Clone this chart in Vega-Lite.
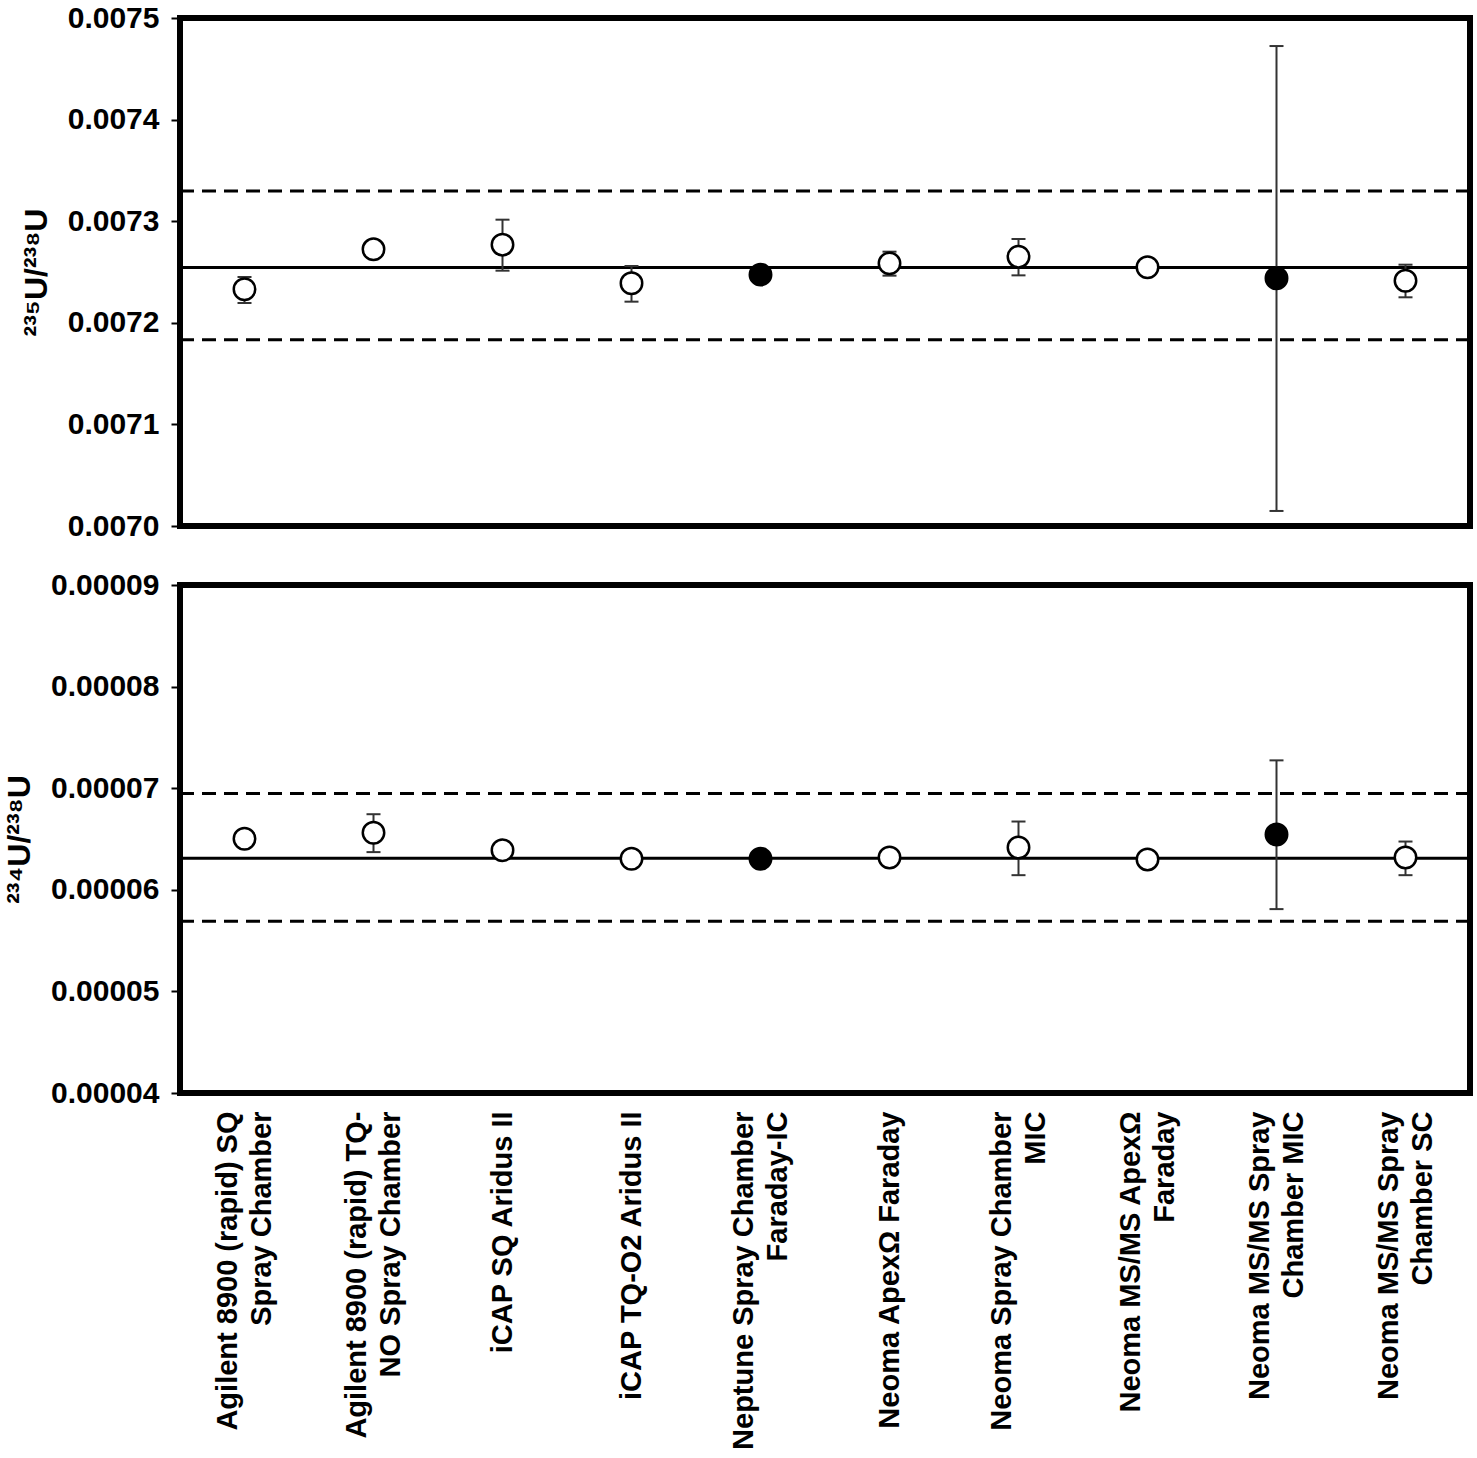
{
  "$schema": "https://vega.github.io/schema/vega-lite/v6.json",
  "background": "white",
  "padding": {"left": 0, "top": 0, "right": 5, "bottom": 0},
  "datasets": {
    "u235": [
      {"instrument": "Agilent 8900 (rapid) SQ\nSpray Chamber", "ratio": 0.0072330, "lo": 0.0072195, "hi": 0.0072451, "filled": "open"},
      {"instrument": "Agilent 8900 (rapid) TQ-\nNO Spray Chamber", "ratio": 0.0072723, "lo": null, "hi": null, "filled": "open"},
      {"instrument": "iCAP SQ Aridus II", "ratio": 0.0072769, "lo": 0.0072513, "hi": 0.0073015, "filled": "open"},
      {"instrument": "iCAP TQ-O2 Aridus II", "ratio": 0.0072389, "lo": 0.0072208, "hi": 0.0072559, "filled": "open"},
      {"instrument": "Neptune Spray Chamber\nFaraday-IC", "ratio": 0.0072474, "lo": null, "hi": null, "filled": "filled"},
      {"instrument": "Neoma ApexΩ Faraday", "ratio": 0.0072585, "lo": 0.0072464, "hi": 0.0072700, "filled": "open"},
      {"instrument": "Neoma Spray Chamber\nMIC", "ratio": 0.0072651, "lo": 0.0072467, "hi": 0.0072825, "filled": "open"},
      {"instrument": "Neoma MS/MS ApexΩ\nFaraday", "ratio": 0.0072546, "lo": null, "hi": null, "filled": "open"},
      {"instrument": "Neoma MS/MS Spray\nChamber MIC", "ratio": 0.0072438, "lo": 0.0070148, "hi": 0.0074724, "filled": "filled"},
      {"instrument": "Neoma MS/MS Spray\nChamber SC", "ratio": 0.0072414, "lo": 0.0072251, "hi": 0.0072572, "filled": "open"}
    ],
    "u234": [
      {"instrument": "Agilent 8900 (rapid) SQ\nSpray Chamber", "ratio": 0.00006502, "lo": null, "hi": null, "filled": "open"},
      {"instrument": "Agilent 8900 (rapid) TQ-\nNO Spray Chamber", "ratio": 0.00006561, "lo": 0.00006371, "hi": 0.00006744, "filled": "open"},
      {"instrument": "iCAP SQ Aridus II", "ratio": 0.00006390, "lo": null, "hi": null, "filled": "open"},
      {"instrument": "iCAP TQ-O2 Aridus II", "ratio": 0.00006306, "lo": null, "hi": null, "filled": "open"},
      {"instrument": "Neptune Spray Chamber\nFaraday-IC", "ratio": 0.00006306, "lo": null, "hi": null, "filled": "filled"},
      {"instrument": "Neoma ApexΩ Faraday", "ratio": 0.00006318, "lo": null, "hi": null, "filled": "open"},
      {"instrument": "Neoma Spray Chamber\nMIC", "ratio": 0.00006416, "lo": 0.00006144, "hi": 0.00006672, "filled": "open"},
      {"instrument": "Neoma MS/MS ApexΩ\nFaraday", "ratio": 0.00006299, "lo": null, "hi": null, "filled": "open"},
      {"instrument": "Neoma MS/MS Spray\nChamber MIC", "ratio": 0.00006544, "lo": 0.00005810, "hi": 0.00007274, "filled": "filled"},
      {"instrument": "Neoma MS/MS Spray\nChamber SC", "ratio": 0.00006318, "lo": 0.00006144, "hi": 0.00006475, "filled": "open"}
    ],
    "ref235": [
      {"kind": "mean", "value": 0.0072544},
      {"kind": "limit", "value": 0.0073298},
      {"kind": "limit", "value": 0.0071832}
    ],
    "ref234": [
      {"kind": "mean", "value": 0.00006311},
      {"kind": "limit", "value": 0.00006947},
      {"kind": "limit", "value": 0.00005690}
    ]
  },
  "spacing": 23,
  "vconcat": [
    {
      "width": 1290,
      "height": 508,
      "layer": [
        {
          "data": {"name": "ref235"},
          "mark": {"type": "rule", "color": "black", "strokeWidth": 3},
          "encoding": {
            "y": {"field": "value", "type": "quantitative", "scale": {"domain": [0.007, 0.0075], "nice": false, "zero": false}},
            "strokeDash": {"field": "kind", "type": "nominal", "scale": {"domain": ["mean", "limit"], "range": [[1, 0], [14, 8]]}, "legend": null}
          }
        },
        {
          "data": {"name": "u235"},
          "transform": [{"filter": "isValid(datum.lo)"}],
          "mark": {"type": "rule", "color": "#333333", "strokeWidth": 2},
          "encoding": {
            "x": {"field": "instrument", "type": "nominal", "sort": null,
              "scale": {"type": "band", "paddingInner": 0, "paddingOuter": 0,
                "domain": ["Agilent 8900 (rapid) SQ\nSpray Chamber", "Agilent 8900 (rapid) TQ-\nNO Spray Chamber", "iCAP SQ Aridus II", "iCAP TQ-O2 Aridus II", "Neptune Spray Chamber\nFaraday-IC", "Neoma ApexΩ Faraday", "Neoma Spray Chamber\nMIC", "Neoma MS/MS ApexΩ\nFaraday", "Neoma MS/MS Spray\nChamber MIC", "Neoma MS/MS Spray\nChamber SC"]},
              "axis": null},
            "y": {"field": "lo", "type": "quantitative"},
            "y2": {"field": "hi"}
          }
        },
        {
          "data": {"name": "u235"},
          "transform": [{"filter": "isValid(datum.lo)"}],
          "mark": {"type": "tick", "color": "#333333", "thickness": 2, "size": 14, "opacity": 1},
          "encoding": {
            "x": {"field": "instrument", "type": "nominal", "sort": null},
            "y": {"field": "lo", "type": "quantitative"}
          }
        },
        {
          "data": {"name": "u235"},
          "transform": [{"filter": "isValid(datum.hi)"}],
          "mark": {"type": "tick", "color": "#333333", "thickness": 2, "size": 14, "opacity": 1},
          "encoding": {
            "x": {"field": "instrument", "type": "nominal", "sort": null},
            "y": {"field": "hi", "type": "quantitative"}
          }
        },
        {
          "data": {"name": "u235"},
          "mark": {"type": "point", "shape": "circle", "size": 460, "stroke": "black", "strokeWidth": 2.5, "opacity": 1, "filled": false},
          "encoding": {
            "x": {"field": "instrument", "type": "nominal", "sort": null},
            "y": {"field": "ratio", "type": "quantitative",
              "axis": {"title": "²³⁵U/²³⁸U", "values": [0.007, 0.0071, 0.0072, 0.0073, 0.0074, 0.0075], "format": ".4f"}},
            "fill": {"field": "filled", "type": "nominal", "scale": {"domain": ["open", "filled"], "range": ["white", "black"]}, "legend": null}
          }
        }
      ]
    },
    {
      "width": 1290,
      "height": 508,
      "layer": [
        {
          "data": {"name": "ref234"},
          "mark": {"type": "rule", "color": "black", "strokeWidth": 3},
          "encoding": {
            "y": {"field": "value", "type": "quantitative", "scale": {"domain": [0.00004, 0.00009], "nice": false, "zero": false}},
            "strokeDash": {"field": "kind", "type": "nominal", "scale": {"domain": ["mean", "limit"], "range": [[1, 0], [14, 8]]}, "legend": null}
          }
        },
        {
          "data": {"name": "u234"},
          "transform": [{"filter": "isValid(datum.lo)"}],
          "mark": {"type": "rule", "color": "#333333", "strokeWidth": 2},
          "encoding": {
            "x": {"field": "instrument", "type": "nominal", "sort": null,
              "scale": {"type": "band", "paddingInner": 0, "paddingOuter": 0,
                "domain": ["Agilent 8900 (rapid) SQ\nSpray Chamber", "Agilent 8900 (rapid) TQ-\nNO Spray Chamber", "iCAP SQ Aridus II", "iCAP TQ-O2 Aridus II", "Neptune Spray Chamber\nFaraday-IC", "Neoma ApexΩ Faraday", "Neoma Spray Chamber\nMIC", "Neoma MS/MS ApexΩ\nFaraday", "Neoma MS/MS Spray\nChamber MIC", "Neoma MS/MS Spray\nChamber SC"]},
              "axis": {"title": null, "labelAngle": -90, "labelAlign": "right", "labelBaseline": "middle", "labelPadding": 18, "ticks": false, "domain": false, "labelLimit": 500, "labelLineHeight": 34, "labelFontSize": 29,
                "labelOffset": {"condition": {"test": "indexof(datum.label, '\\n') >= 0", "value": -17}, "value": 0},
                "labelExpr": "split(datum.label, '\\n')"}},
            "y": {"field": "lo", "type": "quantitative"},
            "y2": {"field": "hi"}
          }
        },
        {
          "data": {"name": "u234"},
          "transform": [{"filter": "isValid(datum.lo)"}],
          "mark": {"type": "tick", "color": "#333333", "thickness": 2, "size": 14, "opacity": 1},
          "encoding": {
            "x": {"field": "instrument", "type": "nominal", "sort": null},
            "y": {"field": "lo", "type": "quantitative"}
          }
        },
        {
          "data": {"name": "u234"},
          "transform": [{"filter": "isValid(datum.hi)"}],
          "mark": {"type": "tick", "color": "#333333", "thickness": 2, "size": 14, "opacity": 1},
          "encoding": {
            "x": {"field": "instrument", "type": "nominal", "sort": null},
            "y": {"field": "hi", "type": "quantitative"}
          }
        },
        {
          "data": {"name": "u234"},
          "mark": {"type": "point", "shape": "circle", "size": 460, "stroke": "black", "strokeWidth": 2.5, "opacity": 1, "filled": false},
          "encoding": {
            "x": {"field": "instrument", "type": "nominal", "sort": null},
            "y": {"field": "ratio", "type": "quantitative",
              "axis": {"title": "²³⁴U/²³⁸U", "values": [0.00004, 0.00005, 0.00006, 0.00007, 0.00008, 0.00009], "format": ".5f"}},
            "fill": {"field": "filled", "type": "nominal", "scale": {"domain": ["open", "filled"], "range": ["white", "black"]}, "legend": null}
          }
        }
      ]
    }
  ],
  "config": {
    "view": {"stroke": "black", "strokeWidth": 6},
    "axis": {
      "labelFont": "Liberation Sans",
      "labelFontWeight": "bold",
      "labelFontSize": 29,
      "labelColor": "black",
      "titleFont": "Liberation Sans",
      "titleFontWeight": "bold",
      "titleFontSize": 32,
      "titleColor": "black",
      "grid": false
    },
    "axisY": {
      "domain": false,
      "tickColor": "black",
      "tickSize": 9,
      "tickWidth": 2,
      "labelFontSize": 30,
      "labelPadding": 12,
      "titlePadding": 14,
      "labelFlush": false,
      "labelOverlap": false
    }
  }
}
